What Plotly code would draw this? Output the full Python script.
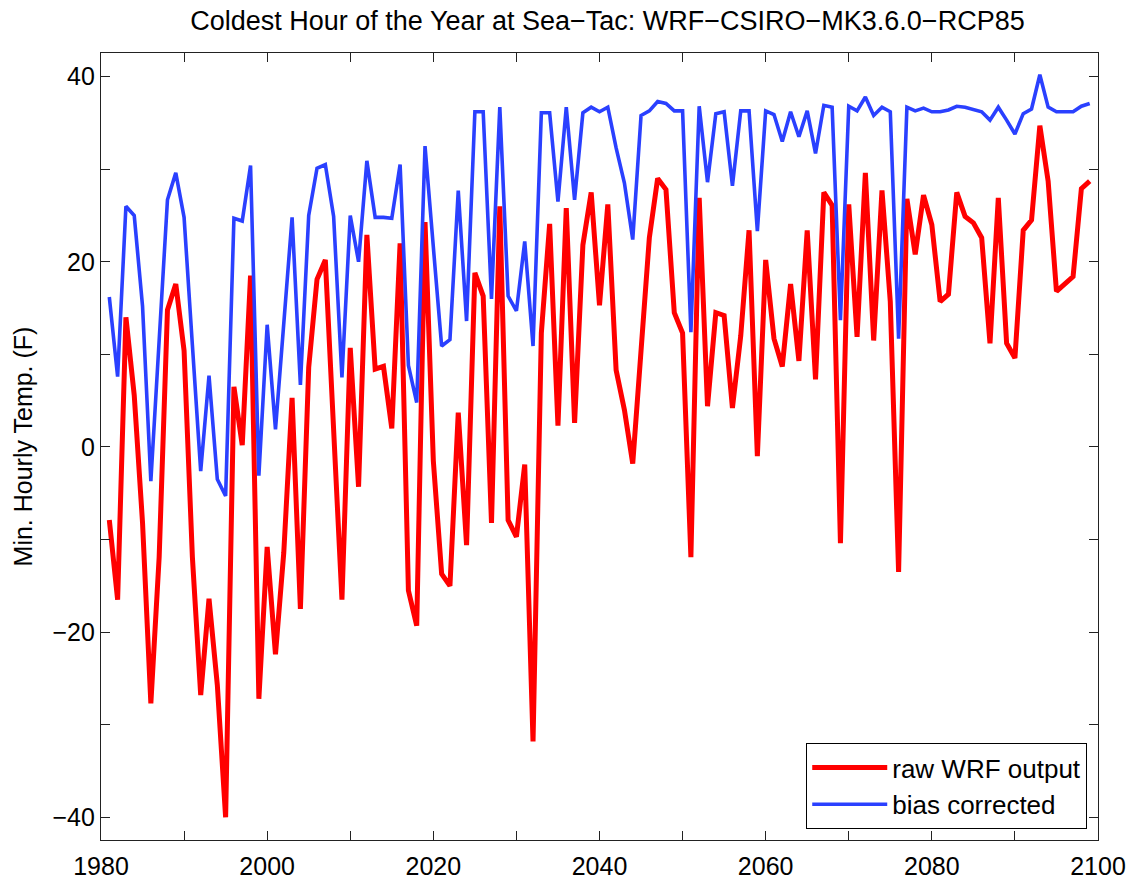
import plotly.graph_objects as go

years = list(range(1981, 2100))

raw_wrf = [
    -7.9, -16.5, 14.0, 5.6, -8.2, -27.7, -11.9, 14.8, 17.6, 10.4,
    -11.9, -26.8, -16.4, -25.7, -40.0, 6.5, 0.2, 18.5, -27.2, -10.8,
    -22.4, -11.4, 5.3, -17.5, 8.6, 18.1, 20.2, 2.0, -16.5, 10.7,
    -4.3, 22.9, 8.4, 8.7, 2.0, 22.0, -15.5, -19.3, 24.3, -1.5,
    -13.7, -15.0, 3.7, -10.6, 18.8, 16.3, -8.2, 26.0, -7.9, -9.7,
    -1.9, -31.8, 12.3, 24.1, 2.3, 25.8, 2.6, 21.8, 27.5, 15.3,
    26.2, 8.3, 4.0, -1.8, 11.0, 22.6, 29.0, 27.8, 14.5, 12.3,
    -11.9, 26.9, 4.4, 14.5, 14.2, 4.2, 12.0, 23.4, -1.0, 20.2,
    11.7, 8.7, 17.6, 9.3, 23.4, 7.3, 27.5, 26.1, -10.4, 26.2,
    11.9, 29.6, 11.5, 27.7, 15.7, -13.5, 26.8, 20.8, 27.2, 24.0,
    15.7, 16.5, 27.5, 24.9, 24.2, 22.6, 11.2, 26.9, 11.2, 9.6,
    23.4, 24.5, 34.7, 28.7, 16.8, 17.6, 18.4, 27.9, 28.7,
]

bias_corrected = [
    16.2, 7.6, 26.0, 25.0, 15.2, -3.7, 11.5, 26.7, 29.6, 24.8,
    11.0, -2.6, 7.7, -3.5, -5.3, 24.7, 24.4, 30.4, -3.1, 13.2,
    1.9, 13.1, 24.8, 6.7, 25.0, 30.1, 30.5, 24.9, 7.5, 25.0,
    20.0, 30.9, 24.8, 24.8, 24.7, 30.5, 8.8, 4.8, 32.5, 21.6,
    10.9, 11.6, 27.7, 13.6, 36.2, 36.2, 16.0, 36.7, 16.3, 14.7,
    22.2, 10.9, 36.1, 36.1, 26.5, 36.7, 26.7, 36.1, 36.7, 36.2,
    36.7, 32.3, 28.5, 22.4, 35.8, 36.3, 37.3, 37.1, 36.3, 36.3,
    12.4, 36.8, 28.6, 36.0, 36.2, 28.2, 36.3, 36.3, 23.3, 36.3,
    35.9, 33.0, 36.2, 33.5, 36.3, 31.7, 36.9, 36.7, 13.7, 36.8,
    36.3, 37.8, 35.8, 36.7, 36.2, 11.7, 36.7, 36.3, 36.6, 36.2,
    36.2, 36.4, 36.8, 36.7, 36.4, 36.2, 35.3, 36.7, 35.3, 33.8,
    36.0, 36.5, 40.2, 36.7, 36.2, 36.2, 36.2, 36.8, 37.1,
]

x_tickvals = list(range(1980, 2101, 10))
x_ticktext = [str(v) if (v - 1980) % 20 == 0 else "" for v in x_tickvals]
y_tickvals = list(range(-40, 41, 10))
y_ticktext = [str(v).replace("-", "\u2212") if v % 20 == 0 else "" for v in y_tickvals]

FONT = "Liberation Sans, Arial, Helvetica, sans-serif"

fig = go.Figure()
fig.add_trace(go.Scatter(
    x=years, y=raw_wrf, mode="lines", name="raw WRF output",
    line=dict(color="#FF0000", width=5),
))
fig.add_trace(go.Scatter(
    x=years, y=bias_corrected, mode="lines", name="bias corrected",
    line=dict(color="#2A40FF", width=3.6),
))

axis_common = dict(
    showline=True, linecolor="#222222", linewidth=1.3, mirror="ticks",
    ticks="inside", ticklen=9, tickcolor="#222222", tickwidth=1.3,
    showgrid=False, zeroline=False, automargin=False,
    tickfont=dict(family=FONT, size=25, color="black"),
)

fig.update_layout(
    width=1135, height=880,
    paper_bgcolor="white", plot_bgcolor="white",
    margin=dict(l=101, r=37, t=53, b=40),
    title=dict(
        text="Coldest Hour of the Year at Sea\u2212Tac: WRF\u2212CSIRO\u2212MK3.6.0\u2212RCP85",
        x=0.508, xanchor="center", xref="paper",
        y=1 - 21 / 880, yanchor="middle", yref="container",
        font=dict(family=FONT, size=27, color="black"),
    ),
    xaxis=dict(range=[1980, 2100], tickvals=x_tickvals, ticktext=x_ticktext,
               ticklabelstandoff=4, **axis_common),
    yaxis=dict(range=[-42.45, 42.55], tickvals=y_tickvals, ticktext=y_ticktext,
               title=dict(text="Min. Hourly Temp. (F)", font=dict(family=FONT, size=25, color="black"), standoff=12),
               **axis_common),
    legend=dict(
        x=0.9892, y=0.014, xanchor="right", yanchor="bottom",
        bgcolor="white", bordercolor="black", borderwidth=1,
        font=dict(family=FONT, size=26, color="black"),
        tracegroupgap=0, itemwidth=75,
    ),
    showlegend=True,
)

fig.write_html("out.html")
